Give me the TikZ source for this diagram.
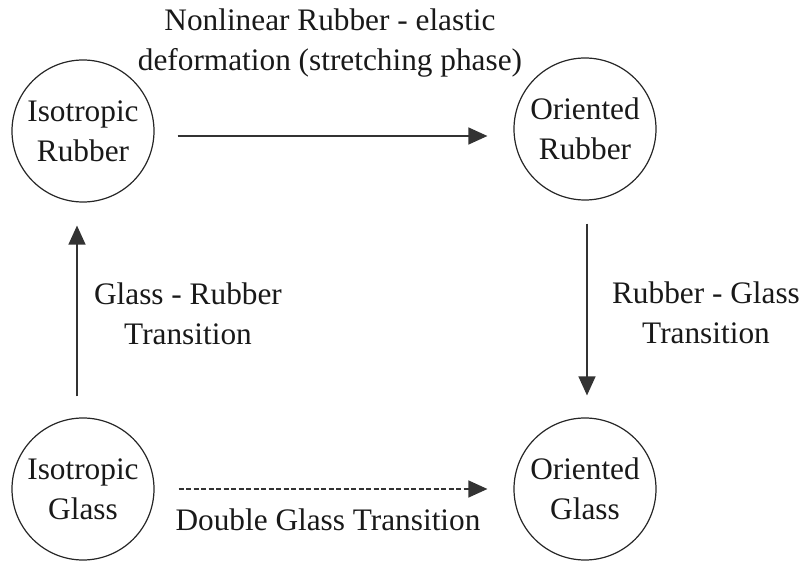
\documentclass[tikz,border=0pt]{standalone}
\usepackage{fontspec}
\setmainfont{Liberation Serif}
\usetikzlibrary{arrows.meta}
\begin{document}
\begin{tikzpicture}[x=1pt,y=-1pt,
  state/.style={draw=black!85,line width=1.2pt,circle,minimum size=142pt,inner sep=0pt,
    align=center,font=\fontsize{31.3}{40}\selectfont,text=black!90},
  lbl/.style={align=center,font=\fontsize{31.3}{40}\selectfont,text=black!90},
  conn/.style={draw=black!80,line width=1.3pt,-{Triangle[length=19pt,width=17pt]}},
  dashconn/.style={conn,dash pattern=on 5pt off 2.5pt}]
\useasboundingbox (0,0) rectangle (801,561);
\node[state] (ir) at (83,131) {Isotropic\\Rubber};
\node[state] (or) at (585,129) {Oriented\\Rubber};
\node[state] (ig) at (83,489) {Isotropic\\Glass};
\node[state] (og) at (585,489) {Oriented\\Glass};
\node[lbl] (t1) at (330,43) {Nonlinear Rubber - elastic\\deformation (stretching phase)};
\node[lbl] (t2) at (188,314) {Glass - Rubber\\Transition};
\node[lbl] (t3) at (706,313) {Rubber - Glass\\Transition};
\node[lbl] (t4) at (328,520) {Double Glass Transition};
\draw[conn,shorten <=23pt,shorten >=26pt] ([yshift=-5pt]ir.east) -- ([yshift=-7pt]or.west);
\draw[conn,shorten <=21pt,shorten >=23pt] ([xshift=-6pt]ig.north) -- ([xshift=-6pt]ir.south);
\draw[conn,shorten <=23pt,shorten >=22pt] ([xshift=2pt]or.south) -- ([xshift=2pt]og.north);
\draw[dashconn,shorten <=24pt,shorten >=26pt] (ig.east) -- (og.west);
\end{tikzpicture}
\end{document}
